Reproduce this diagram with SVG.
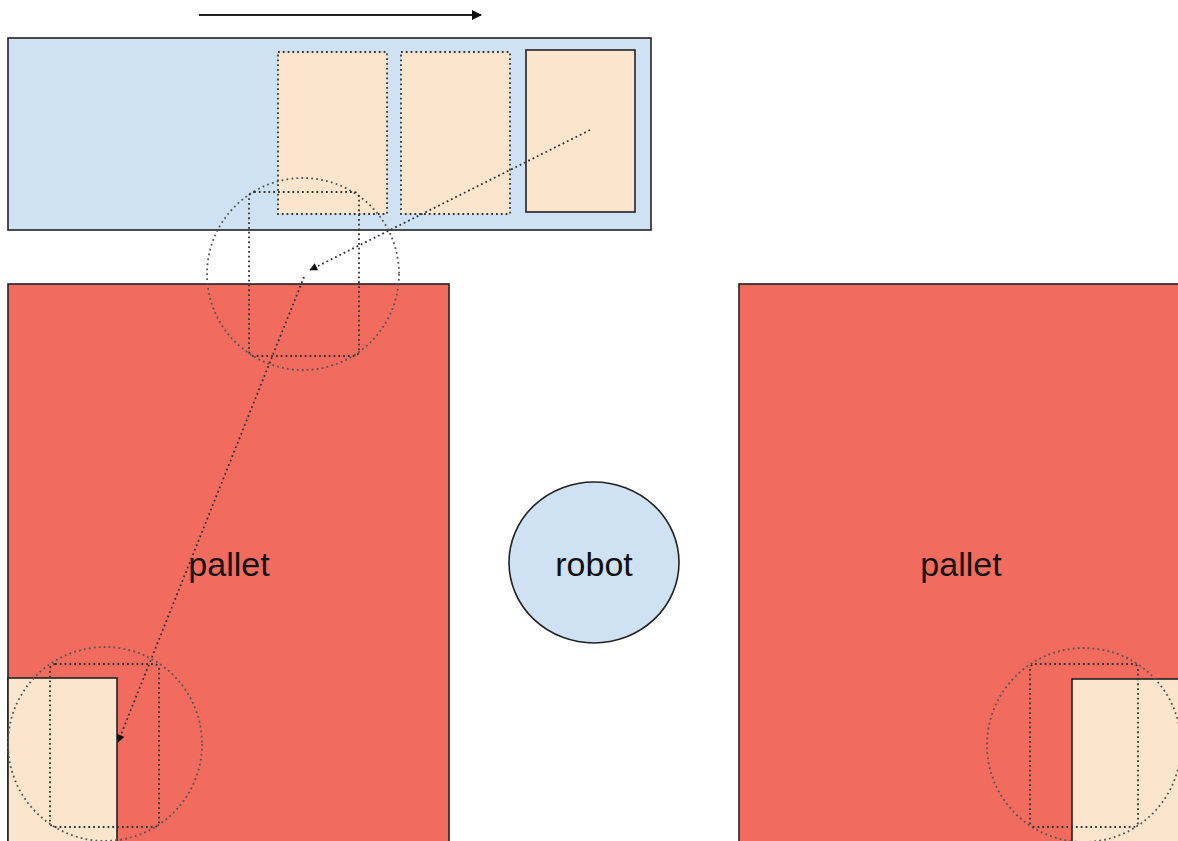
<svg xmlns="http://www.w3.org/2000/svg" width="1178" height="841" viewBox="0 0 1178 841">
<style>
.solid{stroke:#222;stroke-width:1.6}
.blue{fill:#cfe2f3}
.peach{fill:#fce5cd}
.red{fill:#f26b5f}
.dot{stroke:#333;stroke-width:1.8;stroke-dasharray:1.8 3}
.nofill{fill:none}
.dotc{fill:none;stroke:#555;stroke-width:1.8;stroke-dasharray:1.8 3.2}
.lbl{font-family:"Liberation Sans",Arial,sans-serif;font-size:34px;fill:#111;text-anchor:middle}
</style>
<defs>
<marker id="ah" viewBox="0 0 10 10" refX="9" refY="5" markerWidth="16" markerHeight="10" markerUnits="userSpaceOnUse" orient="auto">
<path d="M0,0 L10,5 L0,10 Z" fill="#111"/>
</marker>
<marker id="ahs" viewBox="0 0 10 10" refX="9" refY="5" markerWidth="10" markerHeight="8" markerUnits="userSpaceOnUse" orient="auto">
<path d="M0,0 L10,5 L0,10 Z" fill="#111"/>
</marker>
</defs>
<rect width="1178" height="841" fill="#fff"/>
<g id="conveyor">
<rect class="blue solid" x="8" y="38" width="643" height="192"/>
<rect class="peach dot" x="278" y="52" width="109" height="162"/>
<rect class="peach dot" x="401" y="52" width="109" height="162"/>
<rect class="peach solid" x="526" y="50" width="109" height="162"/>
</g>
<g id="pallet-left">
<rect class="red solid" x="8" y="284" width="441" height="560"/>
<text class="lbl" x="229" y="576">pallet</text>
<rect class="peach solid" x="8" y="678" width="109" height="166"/>
</g>
<g id="pallet-right">
<rect class="red solid" x="739" y="284" width="445" height="560"/>
<text class="lbl" x="961" y="576">pallet</text>
<rect class="peach solid" x="1072" y="679" width="110" height="165"/>
</g>
<g id="robot">
<ellipse class="blue solid" cx="594" cy="562.5" rx="85" ry="80.5"/>
<text class="lbl" x="594" y="576">robot</text>
</g>
<g id="gripper-top">
<circle class="dotc" cx="303" cy="274" r="96"/>
<rect class="dot nofill" x="249" y="192" width="110" height="164" rx="5"/>
</g>
<g id="gripper-bottom-left">
<circle class="dotc" cx="105" cy="744" r="97"/>
<rect class="dot nofill" x="50" y="664" width="109" height="163" rx="5"/>
</g>
<g id="gripper-bottom-right">
<circle class="dotc" cx="1084" cy="745" r="97"/>
<rect class="dot nofill" x="1030" y="664" width="108" height="163" rx="5"/>
</g>
<g id="connectors">
<line x1="199" y1="15" x2="481" y2="15" stroke="#222" stroke-width="2" marker-end="url(#ah)"/>
<line class="dot nofill" x1="590" y1="130" x2="310" y2="270" marker-end="url(#ahs)"/>
<line class="dot nofill" x1="304" y1="277" x2="118" y2="742" marker-end="url(#ahs)"/>
</g>
</svg>
